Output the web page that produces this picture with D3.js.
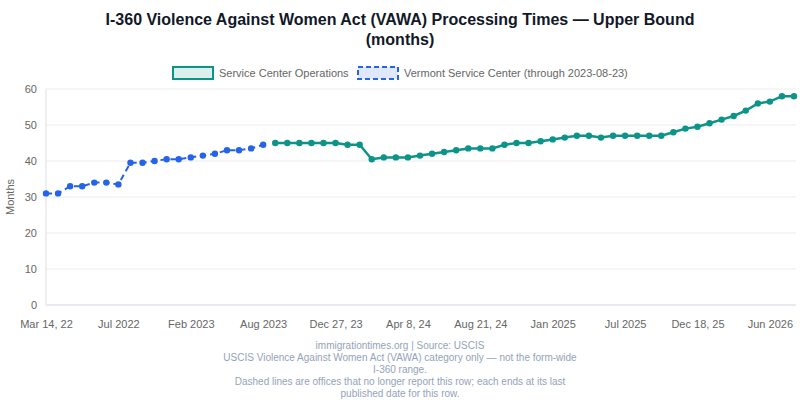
<!DOCTYPE html>
<html><head><meta charset="utf-8">
<script src="https://cdn.jsdelivr.net/npm/d3@7"></script>
<style>body{margin:0;background:#fff;font-family:"Liberation Sans",Arial,sans-serif}</style>
</head><body><svg id="c" width="800" height="400"></svg>
<script>
const vermont = [31,31,33,33,34,34,33.5,39.5,39.5,40,40.5,40.5,41,41.5,42,43,43,43.5,44.5];
const service = [45,45,45,45,45,45,44.5,44.5,40.5,41,41,41,41.5,42,42.5,43,43.5,43.5,43.5,
  44.5,45,45,45.5,46,46.5,47,47,46.5,47,47,47,47,47,48,49,49.5,50.5,51.5,52.5,54,56,56.5,58,58];
const tickLabels = {0:"Mar 14, 22",6:"Jul 2022",12:"Feb 2023",18:"Aug 2023",24:"Dec 27, 23",30:"Apr 8, 24",
  36:"Aug 21, 24",42:"Jan 2025",48:"Jul 2025",54:"Dec 18, 25",60:"Jun 2026"};
const yTicks = [0,10,20,30,40,50,60];
const footer = ["immigrationtimes.org | Source: USCIS",
  "USCIS Violence Against Women Act (VAWA) category only \u2014 not the form-wide",
  "I-360 range.",
  "Dashed lines are offices that no longer report this row; each ends at its last",
  "published date for this row."];

const n = vermont.length + service.length;
const svg = d3.select("#c");
const x = d3.scalePoint().domain(d3.range(n)).range([46, 794]);
const y = d3.scaleLinear().domain([0, 60]).range([305, 89]);

svg.append("text").attr("x", 400).attr("y", 25).attr("text-anchor", "middle")
  .attr("font-size", 16).attr("font-weight", "bold").attr("fill", "#111827")
  .text("I-360 Violence Against Women Act (VAWA) Processing Times \u2014 Upper Bound");
svg.append("text").attr("x", 400).attr("y", 45).attr("text-anchor", "middle")
  .attr("font-size", 16).attr("font-weight", "bold").attr("fill", "#111827").text("(months)");

// grid
svg.append("g").selectAll("line").data(yTicks).join("line")
  .attr("x1", 46).attr("x2", 796).attr("y1", d => y(d)).attr("y2", d => y(d))
  .attr("stroke", d => d === 0 ? "#d4d4e0" : "#ececf0");
svg.append("line").attr("x1", 46).attr("x2", 46).attr("y1", 89).attr("y2", 305).attr("stroke", "#e0e0e6");

svg.append("g").attr("transform", "translate(40,0)")
  .call(d3.axisLeft(y).tickValues(yTicks).tickSize(0))
  .call(g => g.select(".domain").remove())
  .call(g => g.selectAll("text").attr("fill", "#666").attr("font-size", 11).attr("font-family", "Liberation Sans, Arial"));
svg.append("g").attr("transform", "translate(0,317)")
  .call(d3.axisBottom(x).tickValues(Object.keys(tickLabels).map(Number)).tickFormat(i => tickLabels[i]).tickSize(0))
  .call(g => g.select(".domain").remove())
  .call(g => g.selectAll("text").attr("fill", "#666").attr("font-size", 11).attr("font-family", "Liberation Sans, Arial"));
svg.append("text").attr("transform", "translate(14,197) rotate(-90)").attr("text-anchor", "middle")
  .attr("font-size", 11).attr("fill", "#666").text("Months");

const line = d3.line().x(d => x(d.i)).y(d => y(d.v));
const vData = vermont.map((v, i) => ({i, v}));
const sData = service.map((v, i) => ({i: i + vermont.length, v}));

svg.append("path").datum(vData).attr("d", line).attr("fill", "none")
  .attr("stroke", "#2563eb").attr("stroke-width", 2).attr("stroke-dasharray", "6,4");
svg.append("g").selectAll("circle").data(vData).join("circle")
  .attr("cx", d => x(d.i)).attr("cy", d => y(d.v)).attr("r", 3.2).attr("fill", "#2563eb");
svg.append("path").datum(sData).attr("d", line).attr("fill", "none")
  .attr("stroke", "#0d9488").attr("stroke-width", 2.5);
svg.append("g").selectAll("circle").data(sData).join("circle")
  .attr("cx", d => x(d.i)).attr("cy", d => y(d.v)).attr("r", 3.2).attr("fill", "#0d9488");

// legend
const lg = svg.append("g").attr("font-size", 11).attr("fill", "#666");
lg.append("rect").attr("x", 173).attr("y", 67).attr("width", 40).attr("height", 12)
  .attr("fill", "rgba(13,148,136,0.15)").attr("stroke", "#0d9488").attr("stroke-width", 2);
lg.append("text").attr("x", 219).attr("y", 77).text("Service Center Operations");
lg.append("rect").attr("x", 358).attr("y", 67).attr("width", 40).attr("height", 12)
  .attr("fill", "rgba(37,99,235,0.15)").attr("stroke", "#2563eb").attr("stroke-width", 2).attr("stroke-dasharray", "5,3");
lg.append("text").attr("x", 404).attr("y", 77).text("Vermont Service Center (through 2023-08-23)");

svg.append("g").selectAll("text").data(footer).join("text")
  .attr("x", 400).attr("y", (d, i) => 349 + i * 12).attr("text-anchor", "middle")
  .attr("font-size", 10).attr("fill", "#94a3b8").text(d => d);
</script></body></html>
